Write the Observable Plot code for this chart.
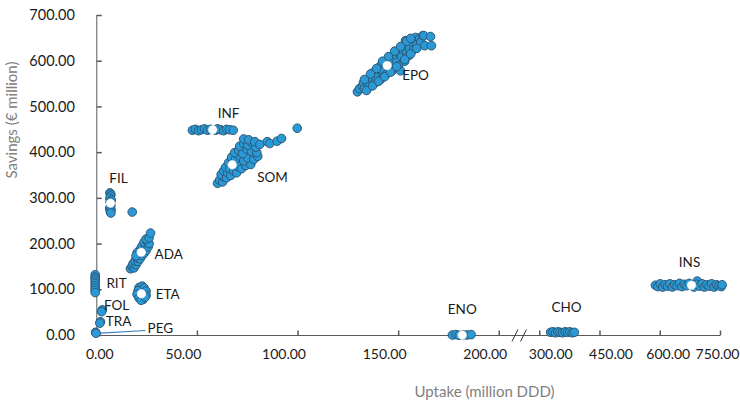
<!DOCTYPE html>
<html><head><meta charset="utf-8">
<script src="https://cdn.jsdelivr.net/npm/d3@7"></script>
<script src="https://cdn.jsdelivr.net/npm/@observablehq/plot@0.6"></script>
<style>body{margin:0;background:#fff} #chart svg{display:block}</style>
</head><body><div id="chart"></div>
<script>
// ---- data (uptake in million DDD, savings in € million) ----
const epo = [[129.5,533],[130.5,540],[132,545],[132.5,553],[133,540],[134.5,550],[135,562],[135.5,545],
  [137,560],[137,574],[138,552],[138,568],[140,568],[140.5,582],[141,560],[141,590],[142.5,578],[143,596],
  [143.5,570],[145.5,585],[146,604],[146.5,578],[147,597],[148.5,612],[149,598],[149.5,620],[150,590],
  [151.5,610],[152,626],[150.9,579],[153,600],[153.4,645],[154,618],[154.5,634],[155,612],[155.5,628],
  [157,640],[157.5,626],[158,648],[158.4,652],[159,636],[160.5,650],[161,642],[162,656],[162.5,656],
  [165.8,654],[163,634],[166.3,634],
  [133,560],[136,572],[139,584],[142,600],[145,610],[148,622],[151,632],[154,644],[156,650],
  [134,536],[137,546],[140,556],[143,566],[146,576],[149,588],[153,604],[156,616],[159,628]];
const som = [[60,333],[61,340],[62.5,336],[63,347],[61.8,352],[64.5,345],[63,360],[65,356],[66.5,350],
  [64,368],[66,365],[68,360],[69.5,356],[65.5,378],[67.5,380],[70,370],[72,365],[74,372],[76.5,374],
  [67,390],[69,386],[71,392],[73,382],[75,388],[78,385],[80,392],[68.5,400],[70.5,405],[72.5,398],
  [74.5,408],[77,402],[79.5,400],[71,414],[73,420],[75,416],[77,422],[79,412],[73,430],[75.5,428],
  [78.5,424],[81,418],[84.7,424],[86,420],[89.6,425],[91.8,431],[99.6,453.5]];
const inf = [[47.5,449],[49,451],[50.5,448],[52,450],[53.5,452],[55,449],[56.5,451],[59,449],[60,452],
  [61.5,450],[63,448],[64.5,451],[66,450],[67.8,449]];
const fil = [[6.5,312],[7,309],[6.8,305],[6.5,300],[7.2,296],[6.6,292],[7,286],[6.8,282],[6.4,278],
  [7.1,275],[6.7,271],[7,268],[17.6,270]];
const ada = [[16.7,146],[17.5,151],[18.5,148],[18,157],[19.5,155],[19,163],[20.5,162],[20,170],[21.5,168],
  [21,177],[22.5,175],[23.5,180],[21.5,188],[23,190],[24.5,186],[22.5,196],[24,198],[25.5,194],[23.5,204],
  [25,206],[26,201],[24.5,211],[26,214],[26.7,224],[20,181],[19.5,174]];
const eta = [[21,105],[22.5,108],[23.5,104],[20.5,98],[24.5,97],[20,90],[24.5,88],[21,82],[23,79],[22,77],[24,84]];
const rit = [[-0.8,133],[-0.8,128],[-0.8,124],[-0.8,119],[-0.8,114],[-0.8,109],[-0.8,104],[-0.8,99],[-0.8,94]];
const fol = [[2.7,56],[2.4,52]];
const tra = [[1.8,30],[1.5,27]];
const peg = [[-0.6,7],[-0.4,5]];
const eno = [[176.7,1],[178.5,2],[180,0.5],[182,1.5],[184,1],[186,2]];
const cho = [[327,7],[333,8],[339,6],[345,8],[351,7],[357,6],[363,8],[369,7],[375,8],[381,6],[386,7]];
const ins = [[588,110],[594,107],[600,113],[606,106],[612,111],[618,108],[624,113],[630,106],[636,111],
  [642,109],[648,114],[654,107],[660,112],[666,109],[672,114],[692,119],[684,106],[690,112],[698,108],
  [704,113],[710,106],[716,111],[722,108],[728,113],[734,106],[740,111],[746,109],[752,107],[754,111]];

const drugNames = ["EPO","SOM","INF","FIL","ADA","ETA","RIT","FOL","TRA","PEG","ENO","CHO","INS"];
const drugClouds = [epo, som, inf, fil, ada, eta, rit, fol, tra, peg, eno, cho, ins];

// mean estimates (white markers)
const meanNames = ["EPO","SOM","INF","FIL","ADA","ETA","ENO","INS"];
const meanX = [144.3, 67.3, 57.6, 6.8, 22.1, 22.2, 181.6, 677.8];
const meanY = [590.6, 373.4, 450, 289.4, 182, 91.2, 1, 110];

// annotation labels (anchor point in data units)
const labelNames = ["EPO","INF","SOM","FIL","ADA","RIT","ETA","FOL","TRA","PEG","ENO","CHO","INS"];
const labelX = [158.4, 65.5, 87.3, 10.8, 35.7, 9.8, 35.2, 9.8, 10.8, 31.6, 181.6, 366.5, 672.9];
const labelY = [568.8, 485.7, 345.6, 343.5, 177.2, 113.8, 89.7, 65.6, 30.6, 15.3, 56.9, 61.3, 159.7];
const pegLeader = [{x1: 1.8, y1: 5, x2: 24.2, y2: 10.9}];

const xTicks = [0, 50, 100, 150, 200, 300, 450, 600, 750];
const yTicks = [0, 100, 200, 300, 400, 500, 600, 700];
const axisBreak = [210.4];

// ---- build tables ----
const points = drugNames.flatMap((name, i) => drugClouds[i].map(([x, y]) => ({name, x, y})));
const means = meanNames.map((name, i) => ({name, x: meanX[i], y: meanY[i]}));
const labels = labelNames.map((name, i) => ({name, x: labelX[i], y: labelY[i]}));

const fmt = d3.format(".2f");
const axisColor = "#5a5a5a";
const tickFont = 14;
const xTickSym = {draw(ctx) { ctx.moveTo(0, 0); ctx.lineTo(0, -5); }};
const yTickSym = {draw(ctx) { ctx.moveTo(0, 0); ctx.lineTo(5, 0); }};
const breakSym = {draw(ctx) { ctx.moveTo(-7.5, 6); ctx.lineTo(-1.5, -6); ctx.moveTo(1, 6); ctx.lineTo(7, -6); }};

const chart = Plot.plot({
  width: 740, height: 403,
  marginLeft: 96, marginRight: 20, marginTop: 15, marginBottom: 68,
  style: {fontFamily: "Lato, 'Open Sans', sans-serif", background: "#fff", color: "#1a1a1a"},
  x: {type: "linear", domain: [0, 210, 280, 750], range: [96.3, 518.9, 531.2, 720], axis: null},
  y: {type: "linear", domain: [0, 700], range: [335, 15], axis: null},
  marks: [
    Plot.ruleY([0], {x1: 0, x2: 750, stroke: axisColor, strokeWidth: 1}),
    Plot.ruleX([0], {y1: 0, y2: 700, stroke: axisColor, strokeWidth: 1}),
    Plot.dot(yTicks, {x: 0, y: d => d, symbol: yTickSym, stroke: axisColor, fill: "none"}),
    Plot.dot(xTicks, {x: d => d, y: 0, symbol: xTickSym, stroke: axisColor, fill: "none"}),
    Plot.dot(axisBreak, {x: d => d, y: 0, symbol: breakSym, stroke: "#333", fill: "none", strokeWidth: 1}),
    Plot.text(yTicks, {x: 0, y: d => d, text: d => fmt(d), textAnchor: "end", dx: -22, fontSize: 14.5, fill: "#1a1a1a"}),
    Plot.text(xTicks, {filter: d => d === 0, x: d => d, y: 0, text: d => fmt(d), dy: 19, dx: 3, fontSize: tickFont, fill: "#1a1a1a"}),
    Plot.text(xTicks, {filter: d => d > 0 && d <= 200, x: d => d, y: 0, text: d => fmt(d), dy: 19, dx: -14, fontSize: tickFont, fill: "#1a1a1a"}),
    Plot.text(xTicks, {filter: d => d >= 300 && d < 600, x: d => d, y: 0, text: d => fmt(d), dy: 19, dx: 11, fontSize: tickFont, fill: "#1a1a1a"}),
    Plot.text(xTicks, {filter: d => d === 600, x: d => d, y: 0, text: d => fmt(d), dy: 19, dx: 8, fontSize: tickFont, fill: "#1a1a1a"}),
    Plot.text(xTicks, {filter: d => d === 750, x: d => d, y: 0, text: d => fmt(d), dy: 19, dx: -3, fontSize: tickFont, fill: "#1a1a1a"}),
    Plot.link(pegLeader, {x1: "x1", y1: "y1", x2: "x2", y2: "y2", stroke: "#3f7fc6", strokeWidth: 1.2}),
    Plot.dot(points, {x: "x", y: "y", r: 4.3, fill: "#2a9ad6", stroke: "#2d5878", strokeWidth: 1}),
    Plot.dot(means, {x: "x", y: "y", r: 4.3, fill: "#ffffff", stroke: "#ffffff", strokeWidth: 0.5}),
    Plot.text(labels, {x: "x", y: "y", text: "name", fontSize: 13.5, fill: "#1a1a1a"}),
    Plot.text(["Savings (€ million)"], {frameAnchor: "left", text: d => d, rotate: -90, dx: -84, dy: 3, fontSize: 15, fill: "#808080"}),
    Plot.text(["Uptake (million DDD)"], {frameAnchor: "bottom-left", text: d => d, dx: 318, dy: 61, fontSize: 15, fill: "#808080"})
  ]
});
document.getElementById("chart").appendChild(chart);
</script>
</body></html>
